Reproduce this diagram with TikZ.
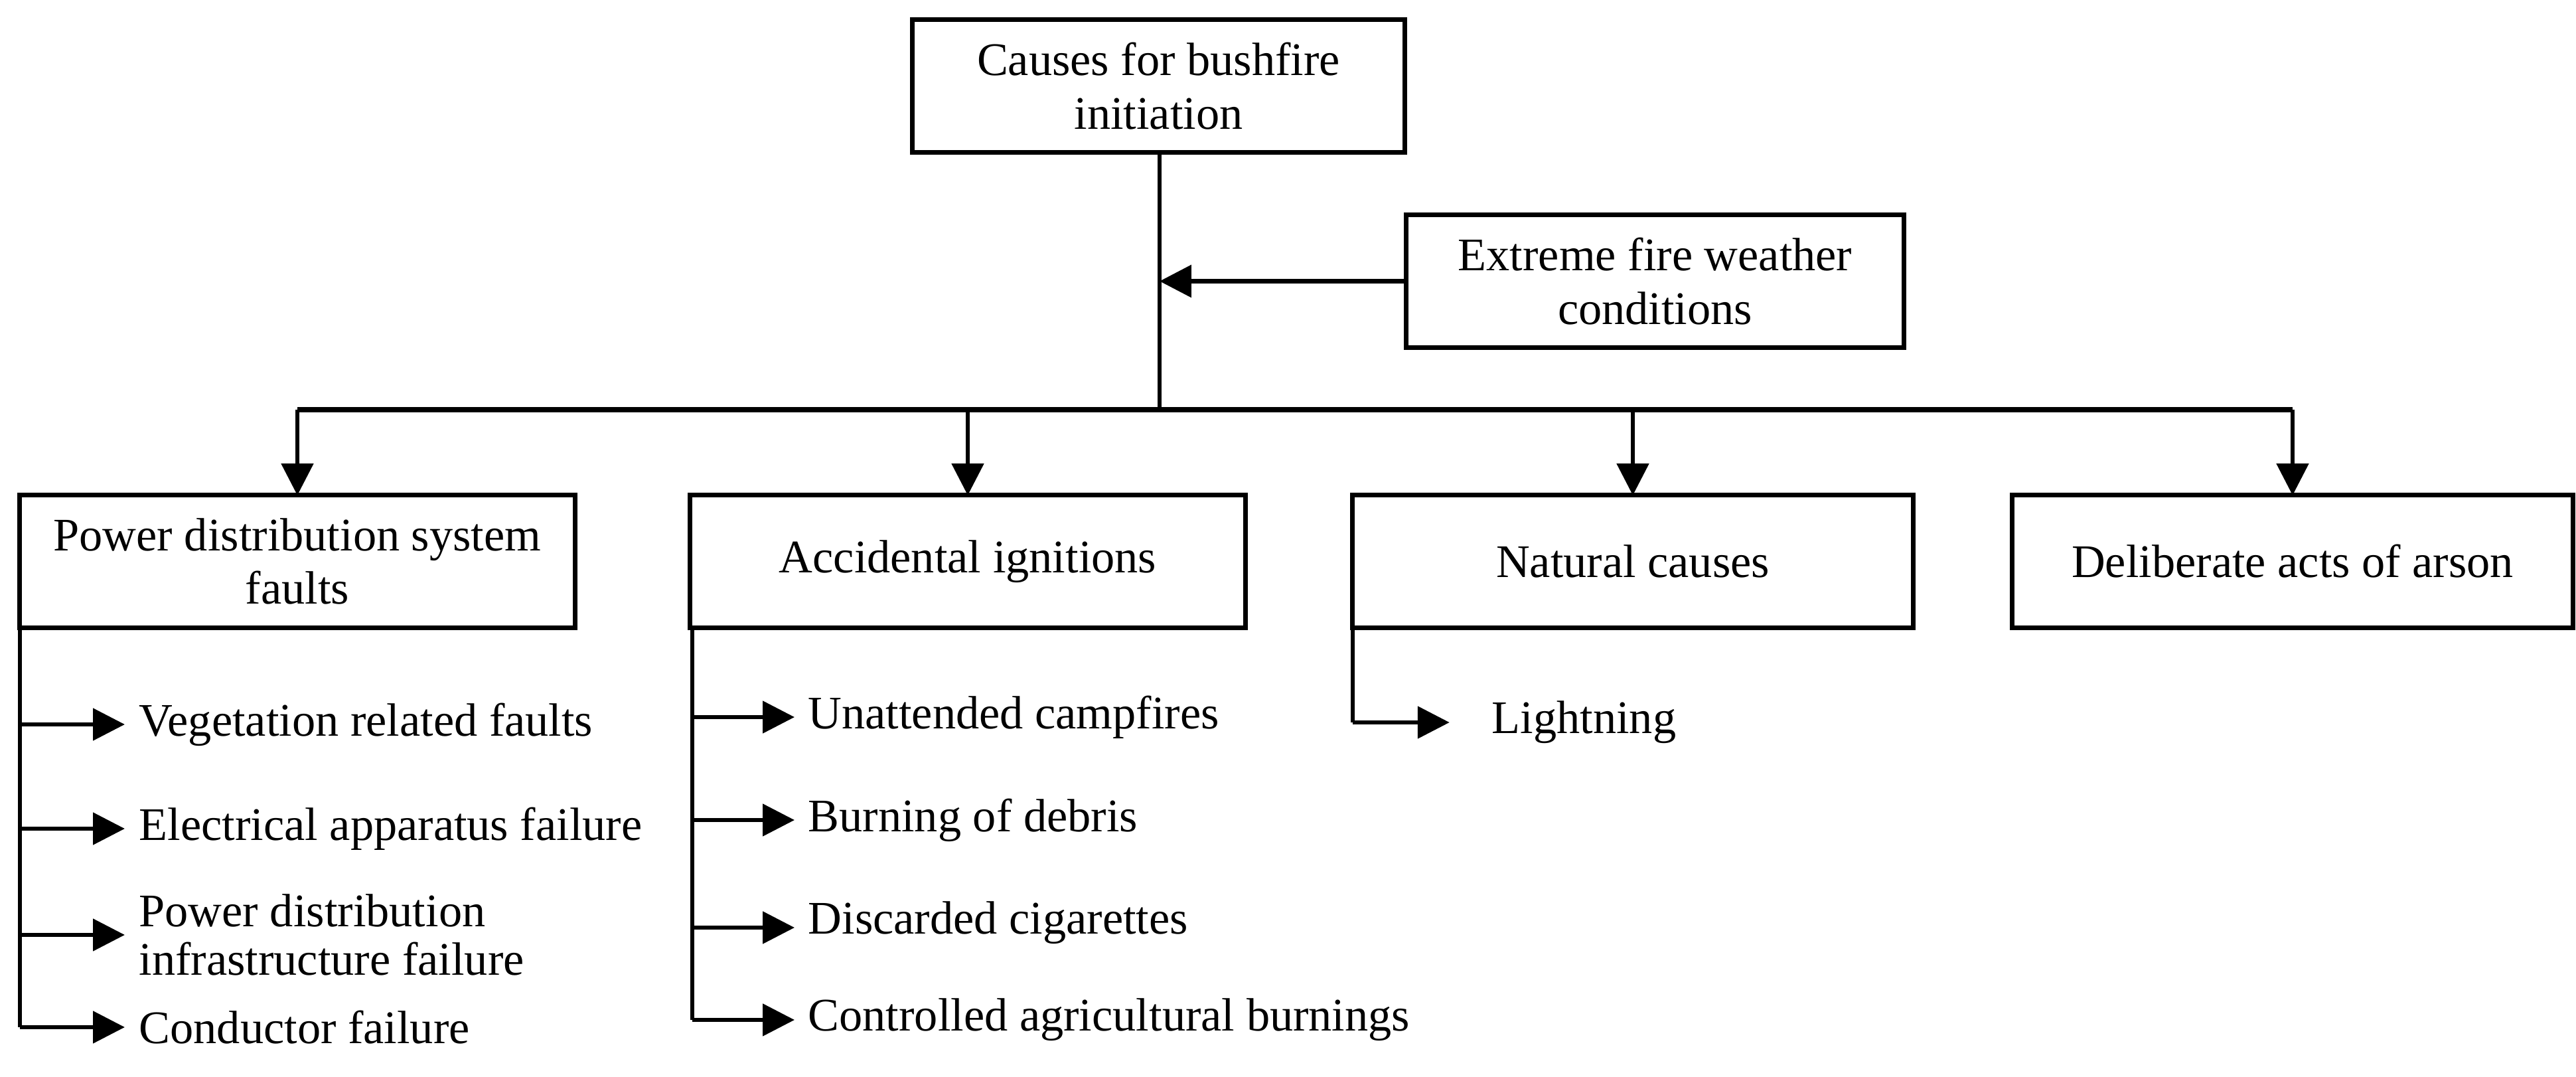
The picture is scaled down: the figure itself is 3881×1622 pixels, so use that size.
\documentclass[tikz,border=0pt]{standalone}
\usepackage{fontspec}
\setmainfont{Liberation Serif}
\usetikzlibrary{arrows.meta}
\begin{document}
\tikzset{
  box/.style={draw, line width=2pt, minimum height=1.99cm, inner sep=2pt, outer sep=0pt,
    align=center, font=\fontsize{20}{23}\selectfont},
  link/.style={line width=1.6pt},
  bus/.style={line width=2pt},
  arr/.style={link, -{Triangle[length=13.6pt,width=13.6pt]}},
  item/.style={anchor=west, inner sep=0pt, align=left, font=\fontsize{20}{20.7}\selectfont},
}
\begin{tikzpicture}[x=0.01cm,y=-0.01cm]
\useasboundingbox (0,0) rectangle (3881,1622);
% main boxes
\node[box, minimum width=7.41cm] (top) at (1745.5,129.5) {Causes for bushfire\\initiation};
\node[box, minimum width=7.49cm] (ext) at (2493.5,423.5) {Extreme fire weather\\conditions};
\node[box, minimum width=8.36cm] (pds) at (448,845.5) {Power distribution system\\faults};
\node[box, minimum width=8.36cm] (acc) at (1458,845.5) {Accidental ignitions};
\node[box, minimum width=8.44cm] (nat) at (2460,845.5) {Natural causes};
\node[box, minimum width=8.44cm] (ars) at (3454,845.5) {Deliberate acts of arson};
% bus
\coordinate (bus) at (1747,617);
\draw[link] (top.south -| bus) -- (bus);
\draw[arr, line width=1.9pt] (ext.west) -- (ext.west -| bus);
\draw[bus] (pds.north |- bus) -- (ars.north |- bus);
\draw[arr] (pds.north |- bus) -- (pds.north);
\draw[arr] (acc.north |- bus) -- (acc.north);
\draw[arr] (nat.north |- bus) -- (nat.north);
\draw[arr] (ars.north |- bus) -- (ars.north);
% power distribution items
\node[item] (p1) at (209,1091) {Vegetation related faults};
\node[item] (p2) at (209,1248) {Electrical apparatus failure};
\node[item] (p3) at (209,1408) {Power distribution\\infrastructure failure};
\node[item] (p4) at (209,1547) {Conductor failure};
\draw[link] (pds.south west) -- (pds.south west |- p4.west);
\foreach \i in {p1,p2,p3,p4}
  \draw[arr, shorten >=6pt] (pds.south west |- \i.west) -- (\i.west);
% accidental items
\node[item] (a1) at (1217,1080) {Unattended campfires};
\node[item] (a2) at (1217,1235) {Burning of debris};
\node[item] (a3) at (1217,1390) {Discarded cigarettes};
\node[item] (a4) at (1217,1536) {Controlled agricultural burnings};
\coordinate (aspine) at (1043,945);
\draw[link] (aspine) -- (aspine |- a4.west);
\draw[arr, shorten >=5.7pt] (aspine |- a1.west) -- (a1.west);
\draw[arr, shorten >=5.7pt] (aspine |- a2.west) -- (a2.west);
\draw[arr, shorten >=5.7pt] ([yshift=-0.07cm]aspine |- a3.west) -- ([yshift=-0.07cm]a3.west);
\draw[arr, shorten >=5.7pt] (aspine |- a4.west) -- (a4.west);
% natural items
\node[item] (n1) at (2247,1088) {Lightning};
\draw[link] (nat.south west) -- (nat.south west |- n1.west);
\draw[arr, shorten >=18pt] (nat.south west |- n1.west) -- (n1.west);
\end{tikzpicture}
\end{document}
